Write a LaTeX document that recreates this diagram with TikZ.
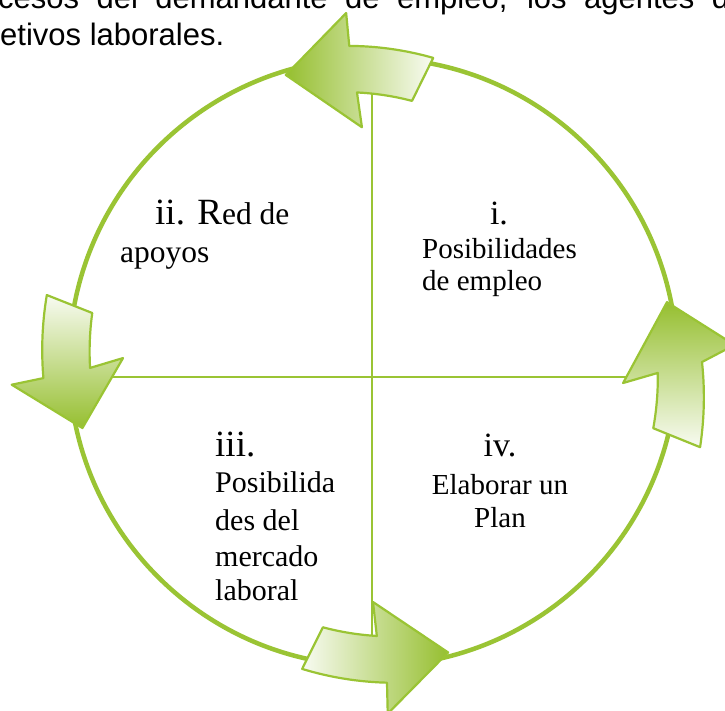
\documentclass[tikz,border=0pt]{standalone}
\usepackage{fontspec}
\setmainfont{Liberation Serif}
\newfontfamily\arialfont{Liberation Sans}
\definecolor{gline}{RGB}{154,196,52}
\definecolor{gdark}{RGB}{150,191,48}
\definecolor{glight}{RGB}{248,251,242}
\tikzset{
  ring/.style={draw=gline, line width=4.5},
  cross/.style={draw=gline, line width=2},
  arrowbox/.style={draw=gline, line width=2.2, line join=round},
  lab/.style={inner sep=0, anchor=base west, font=\fontsize{29}{33}\selectfont},
  labc/.style={inner sep=0, anchor=base, font=\fontsize{29}{33}\selectfont},
  bigc/.style={inner sep=0, anchor=base, font=\fontsize{34}{40}\selectfont},
  toptext/.style={inner sep=0, anchor=base west, font=\arialfont\fontsize{31}{37}\selectfont}
}
\begin{document}
\begin{tikzpicture}[x=1pt,y=1pt]
\useasboundingbox (0,0) rectangle (725,711);
\clip (0,0) rectangle (725,711);
\fill[white] (0,0) rectangle (725,711);
% top paragraph text
\node[toptext] (t1) at (-2,702) {\makebox[731pt][s]{cesos del demandante de empleo, los agentes d}};
\node[toptext] (t2) at (0,665) {etivos laborales.};
% ring and cross
\coordinate (C) at (373,349);
\draw[ring] (C) circle (304);
\coordinate (vtop) at (372,619);
\coordinate (vbot) at (372,75);
\coordinate (hl) at (100,334);
\coordinate (hr) at (640,334);
\draw[cross] (vtop) -- (vbot);
\draw[cross] (hl) -- (hr);
% arrows
\begin{scope}[shift={(C)}]
% top arrow (points left)
\path[arrowbox, left color=gdark, right color=glight]
  plot[domain=0:1, samples=25, variable=\t] ({78.8+15.5*\t}:{310+7*\t})
  -- (94.4:350) -- (106.9:300) -- (92.7:235)
  -- plot[domain=0:1, samples=25, variable=\t] ({93.4-11.9*\t}:{270-6*\t})
  -- cycle;
% right arrow (points up)
\path[arrowbox, top color=gdark, bottom color=glight]
  plot[domain=0:1, samples=25, variable=\t] ({-14.6+14.6*\t}:{338-9*\t})
  -- (2.7:362) -- (11.5:300) -- (-4.8:251)
  -- plot[domain=0:1, samples=25, variable=\t] ({-2.2-11.1*\t}:{285+3*\t})
  -- cycle;
% left arrow (points down)
\path[arrowbox, top color=glight, bottom color=gdark]
  plot[domain=0:1, samples=25, variable=\t] ({168.4+14.4*\t}:{333-3*\t})
  -- (183.6:362) -- (192.8:298) -- (179.1:250)
  -- plot[domain=0:1, samples=25, variable=\t] ({181.2-11.1*\t}:{283+2*\t})
  -- cycle;
% bottom arrow (points right)
\path[arrowbox, left color=glight, right color=gdark]
  plot[domain=0:1, samples=25, variable=\t] ({257+15.5*\t}:{315+6*\t})
  -- (272.4:352) -- (284.5:300) -- (270:240)
  -- plot[domain=0:1, samples=25, variable=\t] ({270.8-11.5*\t}:{274-4*\t})
  -- cycle;
\end{scope}
% labels
\node[lab] (ii) at (155,486) {\fontsize{37}{42}\selectfont ii. R\fontsize{31.5}{36}\selectfont ed de};
\node[lab, font=\fontsize{31.5}{36}\selectfont] (iib) at (120,448) {apoyos};
\node[bigc] (i) at (499,486) {i.};
\node[lab] (ia) at (422,452.5) {Posibilidades};
\node[lab] (ib) at (422,420) {de empleo};
\node[lab, font=\fontsize{37}{42}\selectfont] (iii) at (215,254) {iii.};
\node[lab, font=\fontsize{30}{34}\selectfont] (iiia) at (215,218) {Posibilida};
\node[lab, font=\fontsize{30}{34}\selectfont] (iiib) at (215,180) {des del};
\node[lab, font=\fontsize{30}{34}\selectfont] (iiic) at (215,144) {mercado};
\node[lab, font=\fontsize{30}{34}\selectfont] (iiid) at (215,110) {laboral};
\node[bigc] (iv) at (500,254) {iv.};
\node[labc] (iva) at (500,216) {Elaborar un};
\node[labc] (ivb) at (500,183) {Plan};
\end{tikzpicture}
\end{document}
